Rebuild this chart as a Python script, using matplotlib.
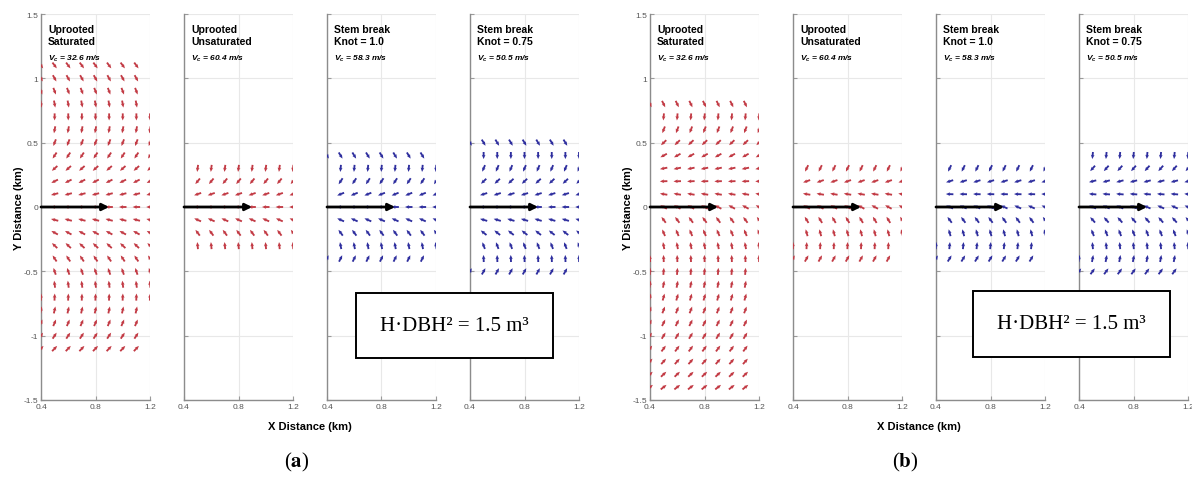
import numpy as np
import matplotlib.pyplot as plt
from matplotlib.patches import Rectangle

plt.rcParams['font.family'] = ['Liberation Sans', 'DejaVu Sans']
plt.rcParams['axes.unicode_minus'] = False
plt.rcParams['mathtext.fontset'] = 'custom'
plt.rcParams['mathtext.it'] = 'Liberation Sans:italic:bold'
plt.rcParams['mathtext.rm'] = 'Liberation Sans:italic:bold'

# panel headers
titles = ['Uprooted\nSaturated', 'Uprooted\nUnsaturated',
          'Stem break\nKnot = 1.0', 'Stem break\nKnot = 0.75']
vc = ['32.6', '60.4', '58.3', '50.5']
red = '#c23a44'
blue = '#2e2e9e'
panel_colors = [red, red, blue, blue]

# tornado track (black arrow)
track_start = 0.4
track_end = 0.9

# ---- (a) : tree-fall directions (deg) per row, first/last column x per row
a1_rows = [1.1, 1.0, 0.9, 0.8, 0.7, 0.6, 0.5, 0.4, 0.3, 0.2, 0.1, 0.0,
           -0.1, -0.2, -0.3, -0.4, -0.5, -0.6, -0.7, -0.8, -0.9, -1.0, -1.1]
a1_dir = [-55, -62, -70, -80, -90, -100, -110, -122, -137, -152, -165, 180,
          165, 150, 135, 122, 108, 97, 88, 78, 68, 58, 48]
a1_first = [0.4] * 4 + [0.5] * 14 + [0.4] * 5
a1_last = [1.1] * 4 + [1.2] * 15 + [1.1] * 4

a2_rows = [0.3, 0.2, 0.1, 0.0, -0.1, -0.2, -0.3]
a2_dir = [-97, -128, -160, 180, 155, 125, 95]
a2_first = [0.5] * 7
a2_last = [1.2] * 7

a3_rows = [0.4, 0.3, 0.2, 0.1, 0.0, -0.1, -0.2, -0.3, -0.4]
a3_dir = [-60, -95, -122, -157, 180, 155, 125, 100, 65]
a3_first = [0.4] + [0.5] * 7 + [0.4]
a3_last = [1.1] + [1.2] * 7 + [1.1]

a4_rows = [0.5, 0.4, 0.3, 0.2, 0.1, 0.0, -0.1, -0.2, -0.3, -0.4, -0.5]
a4_dir = [-60, -90, -112, -135, -162, 180, 163, 140, 110, 92, 62]
a4_first = [0.4] + [0.5] * 9 + [0.4]
a4_last = [1.1] + [1.2] * 9 + [1.1]

# ---- (b)
b1_rows = [0.8, 0.7, 0.6, 0.5, 0.4, 0.3, 0.2, 0.1, 0.0, -0.1, -0.2, -0.3,
           -0.4, -0.5, -0.6, -0.7, -0.8, -0.9, -1.0, -1.1, -1.2, -1.3, -1.4]
b1_dir = [-65, -95, -110, -135, -150, -168, -178, 170, 150, 125, 112, 100,
          92, 86, 80, 75, 70, 65, 60, 55, 50, 45, 40]
b1_first = [0.4] + [0.5] * 11 + [0.4] * 11
b1_last = [1.1] + [1.2] * 12 + [1.1] * 10

b2_rows = [0.3, 0.2, 0.1, 0.0, -0.1, -0.2, -0.3, -0.4]
b2_dir = [-115, -160, 170, 150, 120, 105, 88, 62]
b2_first = [0.5] * 6 + [0.4] * 2
b2_last = [1.2] * 6 + [1.1] * 2

b3_rows = [0.3, 0.2, 0.1, 0.0, -0.1, -0.2, -0.3, -0.4]
b3_dir = [-115, -162, 178, 155, 125, 105, 85, 60]
b3_first = [0.5] * 6 + [0.4] * 2
b3_last = [1.2] * 6 + [1.1] * 2

b4_rows = [0.4, 0.3, 0.2, 0.1, 0.0, -0.1, -0.2, -0.3, -0.4, -0.5]
b4_dir = [-95, -130, -165, 175, 155, 130, 110, 95, 80, 55]
b4_first = [0.5] * 8 + [0.4] * 2
b4_last = [1.2] * 8 + [1.1] * 2

xticks = [0.4, 0.8, 1.2]
yticks = [-1.5, -1, -0.5, 0, 0.5, 1, 1.5]
ytick_labels = ['-1.5', '-1', '-0.5', '0', '0.5', '1', '1.5']

groups = [
    [(a1_rows, a1_dir, a1_first, a1_last), (a2_rows, a2_dir, a2_first, a2_last),
     (a3_rows, a3_dir, a3_first, a3_last), (a4_rows, a4_dir, a4_first, a4_last)],
    [(b1_rows, b1_dir, b1_first, b1_last), (b2_rows, b2_dir, b2_first, b2_last),
     (b3_rows, b3_dir, b3_first, b3_last), (b4_rows, b4_dir, b4_first, b4_last)],
]

W, H = 1192, 485
fig = plt.figure(figsize=(W / 100, H / 100), dpi=100)

group_left = [41, 650]
panel_step = 143
ax_w = 109
ax_top, ax_bot = 15, 401
arrow_len = 0.055


def draw_field(ax, rows, dirs, first, last, color):
    X, Y, U, V = [], [], [], []
    for y, d, x0, x1 in zip(rows, dirs, first, last):
        n = int(round((x1 - x0) / 0.1)) + 1
        for k in range(n):
            X.append(x0 + 0.1 * k)
            Y.append(y)
            U.append(arrow_len * np.cos(np.radians(d)))
            V.append(arrow_len * np.sin(np.radians(d)))
    ax.quiver(X, Y, U, V, angles='xy', scale_units='xy', scale=1,
              pivot='mid', color=color, width=0.017, headwidth=2.0,
              headlength=2.3, headaxislength=2.0, zorder=3)


for g, panels in enumerate(groups):
    for p, (rows, dirs, first, last) in enumerate(panels):
        left = group_left[g] + p * panel_step
        ax = fig.add_axes([left / W, (H - ax_bot) / H, ax_w / W, (ax_bot - ax_top) / H])
        ax.set_xlim(0.4, 1.2)
        ax.set_ylim(-1.5, 1.5)
        ax.set_xticks(xticks)
        ax.set_xticklabels([str(t) for t in xticks])
        ax.set_yticks(yticks)
        if p == 0:
            ax.set_yticklabels(ytick_labels)
        else:
            ax.set_yticklabels([])
        ax.tick_params(direction='in', length=3, width=0.8, colors='#9a9a9a',
                       labelcolor='#555555', labelsize=6, pad=2)
        ax.grid(True, color='#e8e8e8', lw=0.8, zorder=0)
        ax.set_axisbelow(True)
        for s in ['top', 'right']:
            ax.spines[s].set_visible(False)
        for s in ['left', 'bottom']:
            ax.spines[s].set_color('#8c8c8c')
            ax.spines[s].set_linewidth(1.0)

        draw_field(ax, rows, dirs, first, last, panel_colors[p])
        ax.annotate('', xy=(track_end, 0), xytext=(track_start, 0),
                    arrowprops=dict(arrowstyle='-|>', color='black', lw=2.0,
                                    mutation_scale=10, shrinkA=0, shrinkB=0),
                    zorder=5, annotation_clip=False)

        ax.text(0.065, 0.975, titles[p], transform=ax.transAxes, ha='left',
                va='top', fontsize=7.5, fontweight='bold', linespacing=1.25)
        ax.text(0.065, 0.885, r'$V_c$ = ' + vc[p] + ' m/s', transform=ax.transAxes,
                ha='left', va='center', fontsize=6, fontweight='bold',
                fontstyle='italic')

    # group labels
    gx0 = group_left[g] / W
    gx1 = (group_left[g] + 3 * panel_step + ax_w) / W
    fig.text((gx0 + gx1) / 2, 1 - 427 / H, 'X Distance (km)', ha='center',
             va='center', fontsize=8, fontweight='bold')
    fig.text((group_left[g] - 22) / W, 1 - 208 / H, 'Y Distance (km)', ha='center',
             va='center', rotation=90, fontsize=8, fontweight='bold')

# sub-figure letters
for cx, letter in [(297, 'a'), (905, 'b')]:
    fig.text(cx / W, 1 - 462 / H, '(' + r'$\mathbf{' + letter + '}$' + ')',
             ha='center', va='center', fontsize=15, family='Liberation Serif',
             math_fontfamily='stix')

# H*DBH^2 boxes
for bx0, bx1, by0, by1 in [(356, 553, 294, 359), (973, 1170, 292, 358)]:
    fig.patches.append(Rectangle((bx0 / W, 1 - by1 / H), (bx1 - bx0) / W,
                                 (by1 - by0) / H, transform=fig.transFigure,
                                 facecolor='white', edgecolor='black', lw=1.4,
                                 zorder=10))
    fig.text((bx0 + bx1) / 2 / W, 1 - (by0 + by1) / 2 / H,
             'H\u00b7DBH\u00b2 = 1.5 m\u00b3', ha='center', va='center',
             fontsize=15, family='Liberation Serif', zorder=11)

fig.savefig('out.png', dpi=100)
